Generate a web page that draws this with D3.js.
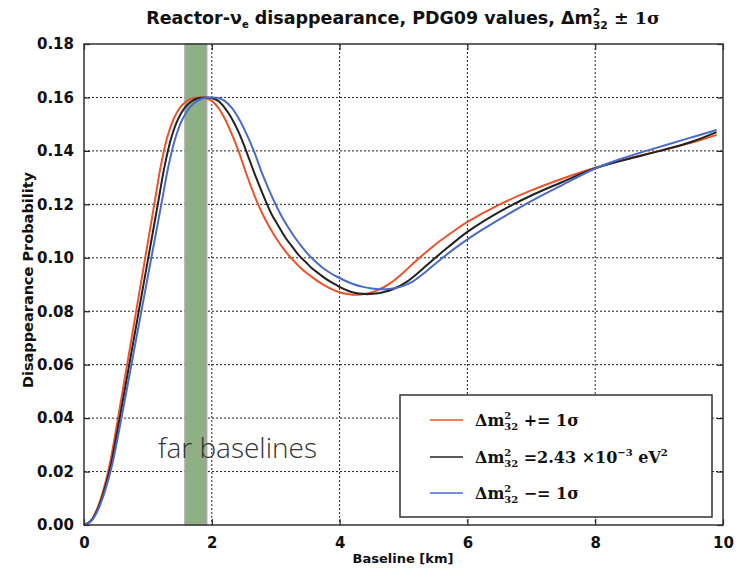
<!DOCTYPE html>
<html><head><meta charset="utf-8">
<script src="https://cdn.jsdelivr.net/npm/d3@7"></script>
<style>
html,body{margin:0;padding:0;background:#fff;}
svg{display:block;}
</style></head>
<body>
<svg id="chart" width="742" height="570"></svg>
<script>
// ---- data ----
const xTickValues = [0, 2, 4, 6, 8, 10];
const xTickLabels = ["0", "2", "4", "6", "8", "10"];
const yTickValues = [0, 0.02, 0.04, 0.06, 0.08, 0.10, 0.12, 0.14, 0.16, 0.18];
const yTickLabels = ["0.00", "0.02", "0.04", "0.06", "0.08", "0.10", "0.12", "0.14", "0.16", "0.18"];
const farBand = [1.58, 1.92];

// Δm² + 1σ (red)
const redL = [0, 0.1, 0.2, 0.3, 0.4, 0.5, 0.6, 0.7, 0.8, 0.9, 1.0, 1.1, 1.2, 1.3, 1.4, 1.5, 1.6, 1.7, 1.81, 1.9, 2.0, 2.1, 2.2, 2.3, 2.41, 2.55, 2.7, 2.8, 2.9, 3.0, 3.1, 3.2, 3.3, 3.4, 3.5, 3.6, 3.7, 3.8, 3.9, 4.0, 4.1, 4.2, 4.3, 4.45, 4.6, 4.8, 5.0, 5.18, 5.5, 5.83, 6.0, 6.5, 7.0, 7.45, 8.0, 8.5, 9.0, 9.5, 9.9];
const redP = [0, 0.0014, 0.0057, 0.0128, 0.0224, 0.0355, 0.0495, 0.0636, 0.0777, 0.0918, 0.1059, 0.120, 0.1341, 0.1448, 0.1518, 0.1561, 0.1585, 0.1597, 0.16, 0.1598, 0.1587, 0.1562, 0.1522, 0.1470, 0.1405, 0.1308, 0.1214, 0.1161, 0.1116, 0.1076, 0.1041, 0.1010, 0.0984, 0.0960, 0.0940, 0.0922, 0.0906, 0.0892, 0.0880, 0.0871, 0.0865, 0.0862, 0.0862, 0.0867, 0.0879, 0.0906, 0.0945, 0.0985, 0.1050, 0.1107, 0.1134, 0.1199, 0.1252, 0.1293, 0.1337, 0.1370, 0.1400, 0.1430, 0.1460];

// Δm² central (black)
const blackL = [0, 0.105, 0.21, 0.315, 0.42, 0.525, 0.63, 0.735, 0.84, 0.945, 1.05, 1.155, 1.26, 1.365, 1.47, 1.575, 1.68, 1.785, 1.9, 2.0, 2.1, 2.2, 2.31, 2.42, 2.53, 2.68, 2.84, 2.94, 3.05, 3.15, 3.26, 3.36, 3.47, 3.57, 3.68, 3.78, 3.89, 3.99, 4.1, 4.2, 4.3, 4.4, 4.52, 4.68, 4.85, 5.05, 5.25, 5.45, 5.7, 6.0, 6.5, 7.0, 7.45, 8.0, 8.5, 9.0, 9.5, 9.9];
const blackP = [0, 0.0014, 0.0057, 0.0128, 0.0224, 0.0355, 0.0495, 0.0636, 0.0777, 0.0918, 0.1059, 0.120, 0.1341, 0.1448, 0.1518, 0.1561, 0.1585, 0.1597, 0.16, 0.1598, 0.1587, 0.1562, 0.1522, 0.1470, 0.1405, 0.1308, 0.1214, 0.1161, 0.1116, 0.1076, 0.1041, 0.1010, 0.0984, 0.0960, 0.0940, 0.0922, 0.0906, 0.0892, 0.0880, 0.0871, 0.0866, 0.0864, 0.0865, 0.0871, 0.0884, 0.0910, 0.0948, 0.0990, 0.1040, 0.1097, 0.1172, 0.1233, 0.1280, 0.1335, 0.1369, 0.1399, 0.1433, 0.1470];

// Δm² − 1σ (blue)
const blueL = [0, 0.11, 0.22, 0.33, 0.44, 0.55, 0.66, 0.77, 0.88, 0.99, 1.1, 1.21, 1.32, 1.43, 1.54, 1.65, 1.76, 1.87, 2.0, 2.1, 2.2, 2.31, 2.42, 2.53, 2.65, 2.8, 2.97, 3.08, 3.19, 3.3, 3.41, 3.52, 3.63, 3.74, 3.85, 3.96, 4.07, 4.2, 4.35, 4.5, 4.65, 4.8, 4.95, 5.15, 5.35, 5.57, 5.9, 6.24, 6.6, 7.0, 7.45, 8.0, 8.4, 8.8, 9.4, 9.9];
const blueP = [0, 0.0014, 0.0057, 0.0128, 0.0224, 0.0355, 0.0495, 0.0636, 0.0777, 0.0918, 0.1059, 0.120, 0.1341, 0.1448, 0.1518, 0.1561, 0.1585, 0.1597, 0.16, 0.1598, 0.1587, 0.1562, 0.1522, 0.1470, 0.1405, 0.1308, 0.1214, 0.1161, 0.1116, 0.1076, 0.1041, 0.1010, 0.0984, 0.0962, 0.0944, 0.0929, 0.0916, 0.0903, 0.0892, 0.0885, 0.0882, 0.0884, 0.0891, 0.0912, 0.0948, 0.0992, 0.1052, 0.1106, 0.1158, 0.1212, 0.1268, 0.1334, 0.1370, 0.1400, 0.1443, 0.1478];

const seriesNames = ["plus", "central", "minus"];
const seriesColors = ["#ee5228", "#222222", "#4a6cc9"];
const legendRest = [" += 1σ", null, " −= 1σ"];

// ---- layout ----
const svg = d3.select("#chart");
const L = 84, R = 723, T = 44, B = 525;
const x = d3.scaleLinear().domain([0, 10]).range([L, R]);
const y = d3.scaleLinear().domain([0, 0.18]).range([B, T]);
const tickFont = "'DejaVu Sans', sans-serif";

// grid
const grid = svg.append("g");
grid.selectAll("line.v").data(xTickValues.slice(1, -1)).join("line")
  .attr("x1", d => x(d)).attr("x2", d => x(d)).attr("y1", T).attr("y2", B)
  .attr("stroke", "#222").attr("stroke-width", 1).attr("stroke-dasharray", "2,2");
grid.selectAll("line.h").data(yTickValues.slice(1, -1)).join("line")
  .attr("y1", d => y(d)).attr("y2", d => y(d)).attr("x1", L).attr("x2", R)
  .attr("stroke", "#222").attr("stroke-width", 1).attr("stroke-dasharray", "2,2");

// band
svg.append("rect")
  .attr("x", x(farBand[0])).attr("y", T)
  .attr("width", x(farBand[1]) - x(farBand[0])).attr("height", B - T)
  .attr("fill", "#8fb084").attr("stroke", "#a8a8a8").attr("stroke-width", 1.5);

// far baselines label
svg.append("text").attr("x", 158).attr("y", 458)
  .attr("font-family", "'Open Sans', sans-serif").attr("font-weight", 300)
  .attr("font-size", 28).attr("fill", "#333").text("far baselines");

// curves
const lineGen = d3.line().x(d => x(d[0])).y(d => y(d[1])).curve(d3.curveCatmullRom.alpha(0.5));
const seriesData = [
  d3.zip(redL, redP),
  d3.zip(blackL, blackP),
  d3.zip(blueL, blueP)
];
svg.append("g").selectAll("path").data(seriesData).join("path")
  .attr("d", lineGen).attr("fill", "none")
  .attr("stroke", (d, i) => seriesColors[i]).attr("stroke-width", 2)
  .attr("stroke-linejoin", "round");

// axes (ticks inward on all sides)
const axB = d3.axisBottom(x).tickValues(xTickValues).tickFormat((d, i) => xTickLabels[i]).tickSizeInner(-6).tickSizeOuter(0).tickPadding(12);
const axT = d3.axisTop(x).tickValues(xTickValues).tickFormat("").tickSizeInner(-6).tickSizeOuter(0);
const axLf = d3.axisLeft(y).tickValues(yTickValues).tickFormat((d, i) => yTickLabels[i]).tickSizeInner(-6).tickSizeOuter(0).tickPadding(10);
const axRt = d3.axisRight(y).tickValues(yTickValues).tickFormat("").tickSizeInner(-6).tickSizeOuter(0);
function styleAxis(g) {
  g.select(".domain").remove();
  g.selectAll(".tick line").attr("stroke", "#222").attr("stroke-width", 1.2);
  g.selectAll(".tick text").attr("font-family", tickFont).attr("font-weight", "bold")
    .attr("font-size", 15).attr("fill", "#111");
}
svg.append("g").attr("transform", `translate(0,${B})`).call(axB).call(styleAxis);
svg.append("g").attr("transform", `translate(0,${T})`).call(axT).call(styleAxis);
svg.append("g").attr("transform", `translate(${L},0)`).call(axLf).call(styleAxis);
svg.append("g").attr("transform", `translate(${R},0)`).call(axRt).call(styleAxis);

// frame
svg.append("rect").attr("x", L).attr("y", T).attr("width", R - L).attr("height", B - T)
  .attr("fill", "none").attr("stroke", "#333").attr("stroke-width", 1.5);

// helper for Δm^2_32 with stacked scripts
function addDm(text, fs) {
  text.append("tspan").text("Δm");
  const sup = text.append("tspan").attr("font-size", fs * 0.62).attr("dy", -fs * 0.45).text("2");
  const w = sup.node().getComputedTextLength();
  text.append("tspan").attr("font-size", fs * 0.62).attr("dx", -w).attr("dy", fs * 0.72).text("32");
  return fs * 0.27;
}

// title
const title = svg.append("text").attr("x", 403).attr("y", 24).attr("text-anchor", "middle")
  .attr("font-family", tickFont).attr("font-weight", "bold").attr("font-size", 17.5).attr("fill", "#111");
title.append("tspan").text("Reactor-ν");
title.append("tspan").attr("font-size", 10).attr("dy", 4).text("e");
title.append("tspan").attr("dy", -4).text(" disappearance, PDG09 values, ");
const back = addDm(title, 17.5);
title.append("tspan").attr("dy", -back).attr("font-family", "'DejaVu Serif', serif").text(" ± 1σ");

// axis labels
svg.append("text").attr("x", 403).attr("y", 563).attr("text-anchor", "middle")
  .attr("font-family", tickFont).attr("font-weight", "bold").attr("font-size", 13).attr("fill", "#111")
  .text("Baseline [km]");
svg.append("text").attr("transform", "translate(28,280) rotate(-90)").attr("text-anchor", "middle")
  .attr("dominant-baseline", "central")
  .attr("font-family", tickFont).attr("font-weight", "bold").attr("font-size", 14.5).attr("fill", "#111")
  .text("Disappearance Probability");

// legend
const lg = svg.append("g");
lg.append("rect").attr("x", 400).attr("y", 395).attr("width", 312).attr("height", 122)
  .attr("fill", "#fff").attr("stroke", "#333").attr("stroke-width", 1.5);
const rowsY = [420, 457, 493];
seriesNames.forEach((nm, i) => {
  lg.append("line").attr("x1", 430).attr("x2", 463).attr("y1", rowsY[i]).attr("y2", rowsY[i])
    .attr("stroke", seriesColors[i]).attr("stroke-width", 1.5);
  const t = lg.append("text").attr("x", 475).attr("y", rowsY[i] + 6)
    .attr("font-family", "'DejaVu Serif', serif").attr("font-weight", "bold").attr("font-size", 16).attr("fill", "#111");
  const bk = addDm(t, 16);
  if (legendRest[i] !== null) {
    t.append("tspan").attr("dy", -bk).text(legendRest[i]);
  } else {
    t.append("tspan").attr("dy", -bk).text(" =2.43 ×10");
    t.append("tspan").attr("font-size", 10).attr("dy", -7).text("−3");
    t.append("tspan").attr("dy", 7).text(" eV");
    t.append("tspan").attr("font-size", 10).attr("dy", -7).text("2");
  }
});
</script>
</body></html>
